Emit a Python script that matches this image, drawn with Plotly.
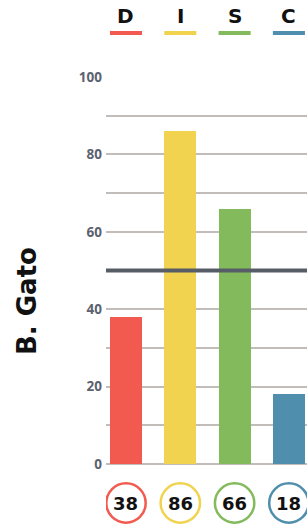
import plotly.graph_objects as go

categories = ["D", "I", "S", "C"]
values = [38, 86, 66, 18]
colors = ["#F25A4F", "#F1D34F", "#82BA5C", "#4F8FAD"]
person = "B. Gato"
threshold = 50
ytick_vals = list(range(0, 101, 10))
ytick_text = [str(v) if v % 20 == 0 else "" for v in ytick_vals]

xs = list(range(len(categories)))
FONT = "DejaVu Sans"
TICKFONT = "Open Sans"

fig = go.Figure()
fig.add_trace(go.Bar(x=xs, y=values, marker=dict(color=colors, line=dict(width=0)),
                     width=0.59, hoverinfo="skip"))

shapes = [dict(type="line", xref="paper", x0=0, x1=1, yref="y", y0=threshold, y1=threshold,
               line=dict(color="#575D67", width=4), layer="above")]
annotations = []
for i, (c, v, col) in enumerate(zip(categories, values, colors)):
    annotations.append(dict(x=i, xref="x", y=1.158, yref="paper", text=c, showarrow=False,
                            font=dict(family=FONT, size=20, color="#111111", weight="bold"),
                            xanchor="center", yanchor="middle"))
    shapes.append(dict(type="rect", xref="x", x0=i - 0.295, x1=i + 0.295,
                       yref="paper", ysizemode="pixel", yanchor=1.1137, y0=-2, y1=2,
                       fillcolor=col, line=dict(width=0)))
    shapes.append(dict(type="circle", xref="x", xsizemode="pixel", xanchor=i, x0=-19.7, x1=19.7,
                       yref="paper", ysizemode="pixel", yanchor=-0.1008, y0=-19.7, y1=19.7,
                       fillcolor="white", line=dict(color=col, width=2.5)))
    annotations.append(dict(x=i, xref="x", y=-0.1008, yref="paper", text=str(v), showarrow=False,
                            font=dict(family=FONT, size=18, color="#111111", weight="bold"),
                            xanchor="center", yanchor="middle"))

annotations.append(dict(x=-0.3905, xref="paper", y=0.42, yref="paper", text=person,
                        textangle=-90, showarrow=False,
                        font=dict(family=FONT, size=26, color="#111111", weight="bold"),
                        xanchor="center", yanchor="middle"))

fig.update_layout(
    width=307, height=524,
    margin=dict(l=106, r=0, t=77, b=60),
    plot_bgcolor="white", paper_bgcolor="white",
    showlegend=False,
    shapes=shapes, annotations=annotations,
    bargap=0,
    xaxis=dict(range=[-0.368, 3.333], showticklabels=False, showgrid=False, zeroline=False,
               showline=False, fixedrange=True),
    yaxis=dict(range=[0, 100], tickvals=ytick_vals, ticktext=ytick_text,
               showgrid=True, gridcolor="#C2BDB9", gridwidth=2,
               zeroline=True, zerolinecolor="#C2BDB9", zerolinewidth=2,
               showline=False, ticks="", ticklabelstandoff=3,
               tickfont=dict(family=TICKFONT, size=13.5, color="#5B6270", weight="bold"),
               fixedrange=True),
)
fig.write_html("out.html", config={"displayModeBar": False},
               post_script="document.body.style.margin='0';document.body.style.overflow='hidden';")
